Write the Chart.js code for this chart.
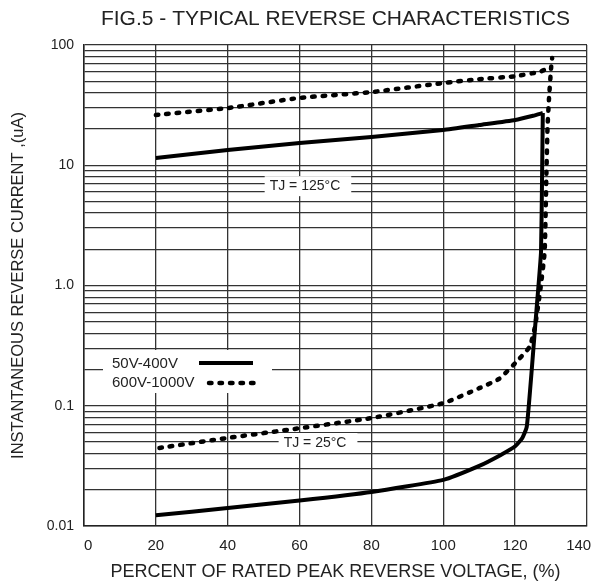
<!DOCTYPE html>
<html>
<head>
<meta charset="utf-8">
<script src="https://cdn.jsdelivr.net/npm/chart.js@4.4.1/dist/chart.umd.min.js"></script>
<style>
  html, body { margin: 0; padding: 0; background: #fff; }
</style>
</head>
<body>
<canvas id="chart" width="592" height="583"></canvas>
<script>
// values (x = % of rated peak reverse voltage, y = uA)
const solid125X = [20, 40, 60, 80, 100, 110, 120, 125, 127.7];
const solid125Y = [11.5, 13.4, 15.3, 17.2, 19.6, 21.6, 23.8, 25.8, 27.2];

const solid25X = [20, 40, 60, 80, 100, 110, 116, 120, 122, 123.2, 123.8, 124.5, 125.5, 126.4, 127.2, 127.5, 127.7];
const solid25Y = [0.0123, 0.0141, 0.0163, 0.0192, 0.0242, 0.0316, 0.039, 0.046, 0.054, 0.066, 0.1, 0.18, 0.43, 0.92, 1.9, 8.3, 27.2];

const dotted125X = [20, 40, 60, 80, 100, 110, 120, 127, 129.1];
const dotted125Y = [26.2, 29.9, 36.3, 40.6, 48.3, 52, 55, 60, 64];

const dotted25X = [21, 40, 60, 80, 100, 110, 115.5, 120, 124, 125.5, 127, 128.2, 128.7, 129, 129.4, 130, 130.3];
const dotted25Y = [0.0446, 0.054, 0.065, 0.079, 0.105, 0.14, 0.167, 0.226, 0.308, 0.45, 0.92, 1.9, 8.6, 20, 35, 64, 78];

const seriesNames = ["50V-400V", "600V-1000V"];
const xTicks = [0, 20, 40, 60, 80, 100, 120, 140];
const yTickLabels = { "100": "100", "10": "10", "1": "1.0", "0.1": "0.1", "0.01": "0.01" };
const tempLabels = [
    { text: "TJ = 125°C", x: 61.5, y: 6.7 },
    { text: "TJ = 25°C", x: 64.3, y: 0.049 }
];

const FONT = "'Liberation Sans', Arial, sans-serif";
const INK = "#222";
const DOTS = [2.5, 8];

function pts(xs, ys) {
    return xs.map((x, i) => ({ x, y: ys[i] }));
}

const solidStyle = { borderColor: "#000", borderWidth: 4, pointRadius: 0, showLine: true, fill: false };
const dotStyle = { borderColor: "#000", borderWidth: 4.5, borderDash: DOTS, borderCapStyle: "round", pointRadius: 0, showLine: true, fill: false };

// white patches, in-plot labels and the little legend
const overlay = {
    id: "overlay",
    beforeDatasetsDraw(chart) {
        const { ctx, chartArea, scales: { x, y } } = chart;
        ctx.save();
        ctx.font = "14px " + FONT;
        ctx.textBaseline = "middle";
        tempLabels.forEach(l => {
            const px = x.getPixelForValue(l.x);
            const py = y.getPixelForValue(l.y);
            const w = ctx.measureText(l.text).width;
            ctx.fillStyle = "#fff";
            ctx.fillRect(px - w / 2 - 5, py - 10, w + 16, 20);
            ctx.fillStyle = INK;
            ctx.textAlign = "center";
            ctx.fillText(l.text, px, py);
        });

        // legend
        const lx = chartArea.left + 19, ly = 350;
        ctx.fillStyle = "#fff";
        ctx.fillRect(lx, ly, 169, 43);
        ctx.font = "15px " + FONT;
        ctx.fillStyle = INK;
        ctx.textAlign = "left";
        ctx.fillText(seriesNames[0], lx + 9, ly + 14);
        ctx.fillText(seriesNames[1], lx + 9, ly + 33);
        ctx.strokeStyle = "#000";
        ctx.lineWidth = 4;
        ctx.beginPath();
        ctx.moveTo(lx + 96, ly + 13);
        ctx.lineTo(lx + 150, ly + 13);
        ctx.stroke();
        ctx.lineWidth = 4.5;
        ctx.lineCap = "round";
        ctx.setLineDash(DOTS);
        ctx.beginPath();
        ctx.moveTo(lx + 106, ly + 33);
        ctx.lineTo(lx + 158, ly + 33);
        ctx.stroke();
        ctx.restore();
    },
    afterDraw(chart) {
        const { ctx, chartArea } = chart;
        ctx.save();
        ctx.font = "21px " + FONT;
        ctx.fillStyle = INK;
        ctx.textAlign = "center";
        ctx.textBaseline = "middle";
        ctx.fillText("FIG.5 - TYPICAL REVERSE CHARACTERISTICS", (chartArea.left + chartArea.right) / 2, 19);
        ctx.restore();
    }
};

new Chart(document.getElementById("chart"), {
    type: "scatter",
    data: {
        datasets: [
            { label: seriesNames[0], data: pts(solid125X, solid125Y), ...solidStyle },
            { label: seriesNames[0], data: pts(solid25X, solid25Y), ...solidStyle },
            { label: seriesNames[1], data: pts(dotted125X, dotted125Y), ...dotStyle },
            { label: seriesNames[1], data: pts(dotted25X, dotted25Y), ...dotStyle }
        ]
    },
    options: {
        responsive: false,
        animation: false,
        layout: { padding: { top: 45, right: 5, left: 0, bottom: 0 } },
        elements: { line: { tension: 0.15, borderJoinStyle: "round" } },
        plugins: {
            legend: { display: false },
            tooltip: { enabled: false }
        },
        scales: {
            x: {
                type: "linear",
                min: 0,
                max: 140,
                afterBuildTicks: s => { s.ticks = xTicks.map(v => ({ value: v })); },
                afterFit: s => { s.height = 57; s.paddingLeft = 0; s.paddingRight = 0; },
                grid: { color: "#333", lineWidth: 1.3, drawTicks: false },
                border: { color: "#222", width: 1.5 },
                ticks: {
                    color: INK,
                    font: { family: FONT, size: 15 },
                    padding: 11,
                    // the end labels sit a little inside the frame on the original
                    callback: v => v === 0 ? "  0" : v === 140 ? "140    " : String(v)
                },
                title: {
                    display: true,
                    text: "PERCENT OF RATED PEAK REVERSE VOLTAGE, (%)",
                    color: INK,
                    font: { family: FONT, size: 18 },
                    padding: { top: 0, bottom: 0 }
                }
            },
            y: {
                type: "logarithmic",
                min: 0.01,
                max: 100,
                afterBuildTicks: s => {
                    const t = [];
                    for (let e = -2; e <= 1; e++) {
                        for (let m = 1; m <= 9; m++) t.push({ value: Number((m * Math.pow(10, e)).toPrecision(3)) });
                    }
                    t.push({ value: 100 });
                    s.ticks = t;
                },
                afterFit: s => { s.width = 84; },
                grid: { color: "#333", lineWidth: 1.3, drawTicks: false },
                border: { color: "#222", width: 1.5 },
                ticks: {
                    autoSkip: false,
                    color: INK,
                    font: { family: FONT, size: 14 },
                    padding: 10,
                    callback: v => yTickLabels[String(v)] || ""
                },
                title: {
                    display: true,
                    text: "INSTANTANEOUS REVERSE CURRENT ,(uA)",
                    color: INK,
                    font: { family: FONT, size: 16.5 },
                    padding: { top: 9, bottom: 0 }
                }
            }
        }
    },
    plugins: [overlay]
});
</script>
</body>
</html>
